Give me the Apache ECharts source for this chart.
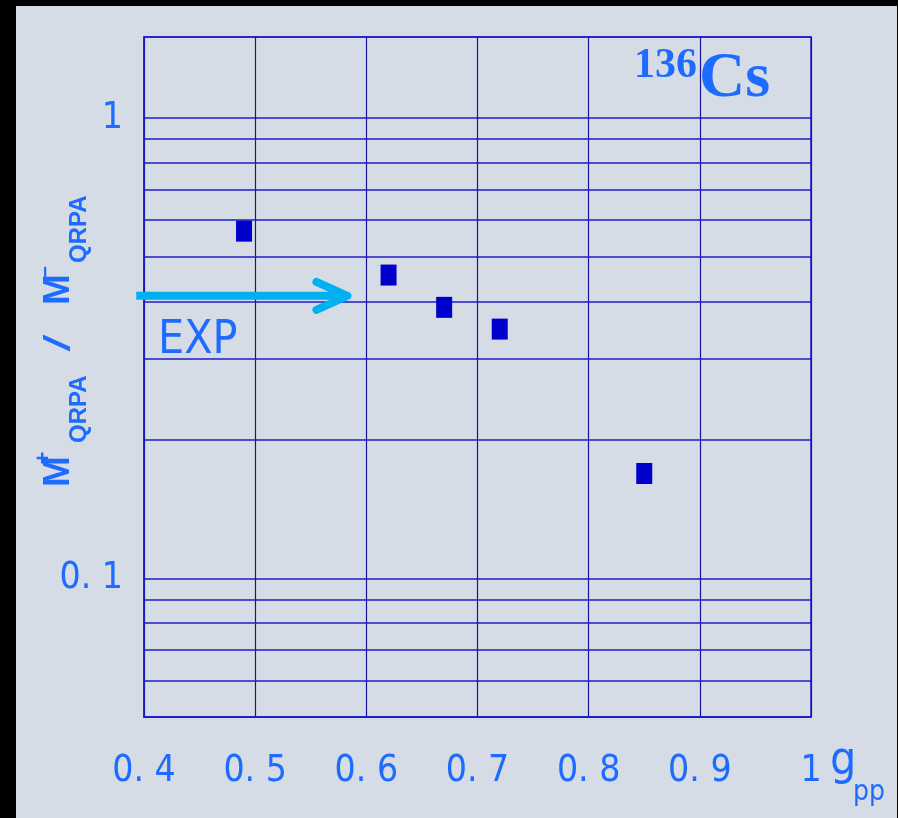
<!DOCTYPE html>
<html>
<head>
<meta charset="utf-8">
<script src="https://cdn.jsdelivr.net/npm/echarts@6/dist/echarts.min.js"></script>
<style>
  html, body { margin: 0; padding: 0; background: #000; }
  #chart { width: 898px; height: 818px; }
</style>
</head>
<body>
<div id="chart"></div>
<script>
// g_pp values and the QRPA matrix-element ratios computed at them
const gppValues = [0.49, 0.62, 0.67, 0.72, 0.85];
const ratioValues = [0.568, 0.456, 0.388, 0.348, 0.169];

// experimental ratio, marked by the arrow
const expRatio = 0.411;
const expArrowFrom = 0.393;
const expArrowTo = 0.583;

// x-axis ticks
const xTickValues = [0.4, 0.5, 0.6, 0.7, 0.8, 0.9, 1.0];
const xTickLabels = ['0. 4', '0. 5', '0. 6', '0. 7', '0. 8', '0. 9', '1'];

// labelled decades of the log axis
const yTickValues = [0.1, 1];
const yTickLabels = ['0. 1', '1'];

// intermediate grid lines inside each decade
const yMinorLines = [0.06, 0.07, 0.08, 0.09, 0.2, 0.3, 0.4, 0.5, 0.6, 0.7, 0.8, 0.9];

const BLUE_TEXT = '#1d6cff';
const NARROW = "'Liberation Sans Narrow', 'DejaVu Sans Condensed', 'Liberation Sans', sans-serif";
const GRID_H = '#1c1cc8';
const GRID_V = '#14149e';

function lookupLabel(values, labels, v) {
  for (let i = 0; i < values.length; i++) {
    if (Math.abs(values[i] - v) < 1e-6 * Math.max(1, Math.abs(v))) return labels[i];
  }
  return '';
}

const chart = echarts.init(document.getElementById('chart'), null, { renderer: 'canvas' });

const option = {
  backgroundColor: '#d6dce6',
  animation: false,
  grid: {
    left: 144, right: 87, top: 37, bottom: 101,
    containLabel: false,
    outerBoundsMode: 'none',
    show: true,
    borderColor: GRID_H,
    borderWidth: 1.5,
    backgroundColor: 'transparent'
  },
  xAxis: {
    type: 'value',
    min: 0.4, max: 1.0, interval: 0.1,
    axisLine: { show: true, lineStyle: { color: GRID_H, width: 1.5 } },
    axisTick: { show: false },
    splitLine: { show: true, lineStyle: { color: GRID_V, width: 1.2 } },
    axisLabel: {
      margin: 36,
      color: BLUE_TEXT,
      fontFamily: NARROW,
      fontSize: 37,
      formatter: v => lookupLabel(xTickValues, xTickLabels, v)
    }
  },
  yAxis: {
    type: 'log',
    logBase: 10,
    min: 0.05, max: 1.5,
    axisLine: { show: true, lineStyle: { color: GRID_H, width: 1.5 } },
    axisTick: { show: false },
    splitLine: { show: true, lineStyle: { color: GRID_H, width: 1.5 } },
    axisLabel: {
      margin: 21,
      color: BLUE_TEXT,
      fontFamily: NARROW,
      fontSize: 37,
      padding: [10, 0, 0, 0],
      showMinLabel: false,
      showMaxLabel: false,
      formatter: v => lookupLabel(yTickValues, yTickLabels, v)
    }
  },
  series: [
    {
      type: 'scatter',
      data: gppValues.map((g, i) => [g, ratioValues[i]]),
      symbol: 'rect',
      symbolSize: [16, 21],
      itemStyle: { color: '#0000cc', opacity: 1 },
      z: 5,
      markLine: {
        silent: true,
        symbol: 'none',
        label: { show: false },
        lineStyle: { color: GRID_H, width: 1.5, type: 'solid' },
        data: yMinorLines.map(v => ({ yAxis: v }))
      }
    },
    {
      type: 'custom',
      clip: false,
      z: 6,
      data: [[expArrowFrom, expArrowTo, expRatio]],
      renderItem: function (params, api) {
        const start = api.coord([api.value(0), api.value(2)]);
        const end = api.coord([api.value(1), api.value(2)]);
        const style = { stroke: '#00b0f0', lineWidth: 8, lineCap: 'round', lineJoin: 'round', fill: null };
        return {
          type: 'group',
          children: [
            { type: 'line', shape: { x1: start[0], y1: start[1], x2: end[0] - 3, y2: end[1] },
              style: Object.assign({}, style, { lineCap: 'butt' }) },
            { type: 'polyline', shape: { points: [[end[0] - 31, end[1] - 14], [end[0], end[1]], [end[0] - 31, end[1] + 14]] },
              style: style }
          ]
        };
      }
    }
  ],
  graphic: [
    // label under the arrow
    { type: 'text', left: 158, top: 318, z: 10,
      style: { text: 'EXP', fill: BLUE_TEXT, font: "46px " + NARROW } },
    // nucleus label
    { type: 'text', x: 634, y: 66, z: 10,
      style: { text: '136', fill: BLUE_TEXT, font: "bold 42px 'Liberation Serif', serif", verticalAlign: 'middle', align: 'left' } },
    { type: 'text', x: 699, y: 79, z: 10,
      style: { text: 'Cs', fill: BLUE_TEXT, font: "bold 64px 'Liberation Serif', serif", verticalAlign: 'middle', align: 'left' } },
    // x-axis name
    { type: 'text', x: 830, y: 762, z: 10,
      style: { text: 'g', fill: BLUE_TEXT, font: "46px " + NARROW, verticalAlign: 'middle', align: 'left' } },
    { type: 'text', x: 853, y: 793, z: 10,
      style: { text: 'pp', fill: BLUE_TEXT, font: "28px " + NARROW, verticalAlign: 'middle', align: 'left' } },
    // y-axis name, read bottom to top
    {
      type: 'group', x: 72, y: 487, rotation: Math.PI / 2, z: 10,
      children: [
        { type: 'text', x: 0, y: -13.5, style: { text: 'M', fill: BLUE_TEXT, font: "bold 37px 'Liberation Sans', sans-serif", verticalAlign: 'middle', align: 'left' } },
        { type: 'text', x: 29, y: -28, style: { text: '+', fill: BLUE_TEXT, font: "bold 22px 'Liberation Sans', sans-serif", verticalAlign: 'middle', align: 'center' } },
        { type: 'text', x: 44, y: 7, style: { text: 'QRPA', fill: BLUE_TEXT, font: "bold 24px 'Liberation Sans', sans-serif", verticalAlign: 'middle', align: 'left' } },
        { type: 'text', x: 144, y: -12, scaleX: 1.7,
          style: { text: '/', fill: BLUE_TEXT, font: "36px 'Liberation Sans', sans-serif", verticalAlign: 'middle', align: 'center' } },
        { type: 'text', x: 182, y: -13.5, style: { text: 'M', fill: BLUE_TEXT, font: "bold 37px 'Liberation Sans', sans-serif", verticalAlign: 'middle', align: 'left' } },
        { type: 'text', x: 215, y: -26, style: { text: '\u2212', fill: BLUE_TEXT, font: "bold 20px 'Liberation Sans', sans-serif", verticalAlign: 'middle', align: 'center' } },
        { type: 'text', x: 224, y: 7, style: { text: 'QRPA', fill: BLUE_TEXT, font: "bold 24px 'Liberation Sans', sans-serif", verticalAlign: 'middle', align: 'left' } }
      ]
    },
    // dark frame edges of the slide
    { type: 'rect', left: 0, top: 0, z: 20, shape: { width: 16, height: 818 }, style: { fill: '#000' } },
    { type: 'rect', left: 0, top: 0, z: 20, shape: { width: 898, height: 6 }, style: { fill: '#000' } },
    { type: 'rect', left: 897, top: 0, z: 20, shape: { width: 1, height: 818 }, style: { fill: '#000' } }
  ]
};

chart.setOption(option);
</script>
</body>
</html>
